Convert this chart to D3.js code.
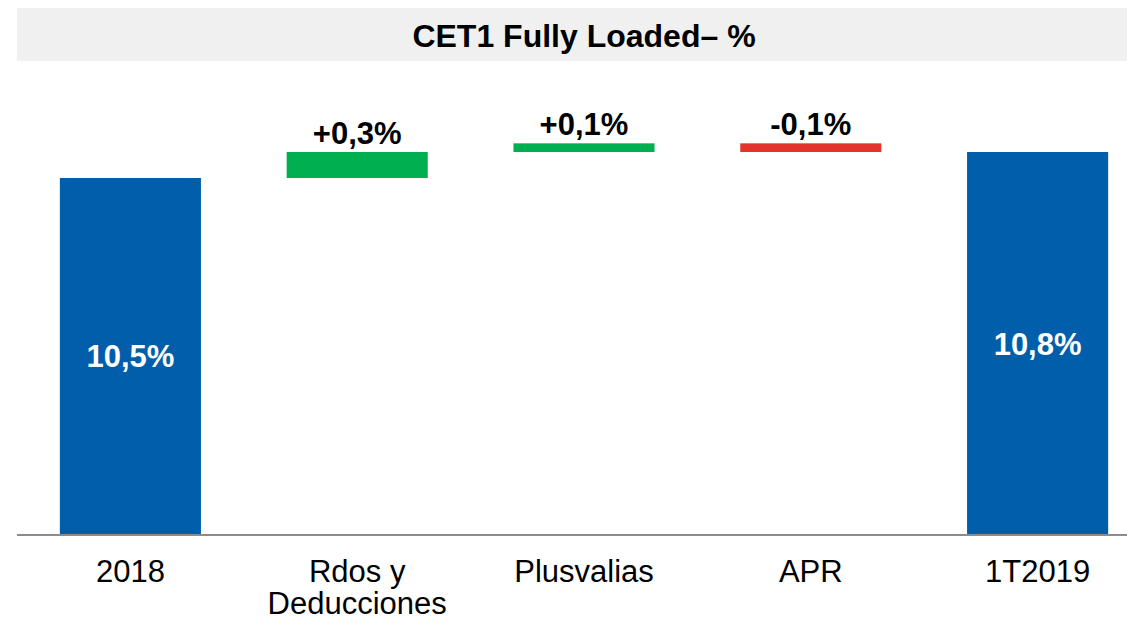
<!DOCTYPE html>
<html>
<head>
<meta charset="utf-8">
<script src="https://cdn.jsdelivr.net/npm/d3@7"></script>
<style>
  body { margin: 0; background: #fff; }
  svg { display: block; font-family: "Liberation Sans", Arial, sans-serif; }
</style>
</head>
<body>
<svg width="1127" height="621"></svg>
<script>
var categories = ["2018", "Rdos y\nDeducciones", "Plusvalias", "APR", "1T2019"];
var values = [10.5, 0.3, 0.1, -0.1, 10.8];
var kinds = ["total", "delta", "delta", "delta", "total"];
var title = "CET1 Fully Loaded\u2013 %";

var svg = d3.select("svg"),
    width = +svg.attr("width"),
    height = +svg.attr("height");

var locale = d3.formatLocale({decimal: ",", thousands: ".", grouping: [3], currency: ["", "%"], minus: "-"});
var fmtTotal = locale.format(".1f"),
    fmtDelta = locale.format("+.1f");

// running totals for the waterfall
var run = 0;
var data = categories.map(function(c, i) {
  var d = {cat: c, value: values[i], kind: kinds[i]};
  if (d.kind == "total") { d.start = 0; d.end = d.value; run = d.value; }
  else { d.start = run; d.end = run + d.value; run = d.end; }
  return d;
});

var x = d3.scaleBand().domain(categories).range([17, 1151]).paddingInner(0.378).paddingOuter(0.189);
var y = d3.scaleLinear().domain([6.38, 10.8]).range([535, 152]);

// title band
svg.append("rect")
    .attr("x", 17).attr("y", 8)
    .attr("width", 1151 - 17).attr("height", 53)
    .style("fill", "#f0f0f0");
svg.append("text")
    .attr("x", (17 + 1151) / 2).attr("y", 47)
    .attr("text-anchor", "middle")
    .style("font-size", "32px").style("font-weight", "bold")
    .style("fill", "#000")
    .text(title);

function colour(d) {
  if (d.kind == "total") return "#005eaa";
  return d.value >= 0 ? "#00b050" : "#e3342c";
}

svg.selectAll(".bar")
  .data(data)
  .enter().append("rect")
    .attr("class", "bar")
    .attr("x", function(d) { return x(d.cat); })
    .attr("width", x.bandwidth())
    .attr("y", function(d) { return d.kind == "total" ? y(d.value) : y(Math.max(d.start, d.end)); })
    .attr("height", function(d) {
      if (d.kind == "total") return y.range()[0] - y(d.value);
      return Math.abs(y(d.start) - y(d.end));
    })
    .style("fill", colour);

// axis line
var xAxis = d3.axisBottom(x).tickSize(0).tickFormat("");
var ax = svg.append("g")
    .attr("transform", "translate(0,535)")
    .call(xAxis);
ax.select(".domain").attr("d", "M17,0H1127").style("stroke", "#8c8c8c").style("stroke-width", 2);

// category labels
svg.selectAll(".cat")
  .data(data)
  .enter().append("text")
    .attr("class", "cat")
    .attr("text-anchor", "middle")
    .attr("x", function(d) { return x(d.cat) + x.bandwidth() / 2; })
    .attr("y", 582)
    .style("font-size", "31px")
    .style("fill", "#000")
    .each(function(d) {
      var lines = d.cat.split("\n");
      var t = d3.select(this);
      lines.forEach(function(l, i) {
        t.append("tspan")
          .attr("x", x(d.cat) + x.bandwidth() / 2)
          .attr("dy", i ? 32 : 0)
          .text(l);
      });
    });

// value labels
svg.selectAll(".val")
  .data(data)
  .enter().append("text")
    .attr("class", "val")
    .attr("text-anchor", "middle")
    .attr("x", function(d) { return x(d.cat) + x.bandwidth() / 2; })
    .attr("y", function(d) {
      if (d.kind == "total") return (y(d.value) + y.range()[0]) / 2 + 11;
      return y(Math.max(d.start, d.end)) - 8;
    })
    .style("font-size", "31px").style("font-weight", "bold")
    .style("fill", function(d) { return d.kind == "total" ? "#fff" : "#000"; })
    .text(function(d) { return (d.kind == "total" ? fmtTotal(d.value) : fmtDelta(d.value)) + "%"; });
</script>
</body>
</html>
